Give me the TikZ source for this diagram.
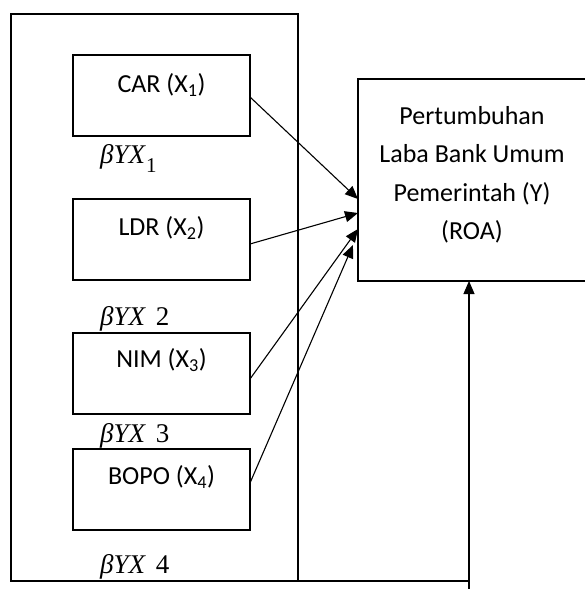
\documentclass[tikz,border=0pt]{standalone}
\usepackage{fontspec}
\setmainfont{Carlito}
\newfontfamily\tms{Liberation Serif}
\usetikzlibrary{arrows.meta}
\begin{document}
\begin{tikzpicture}[x=1pt,y=-1pt,
  box/.style={draw, line width=1.1pt, minimum width=177pt, minimum height=81pt, anchor=north west, inner sep=0, outer sep=0},
  lbl/.style={font=\fontsize{26}{38.5}\selectfont, inner sep=0, align=center},
  beta/.style={font=\tms\fontsize{27}{30}\selectfont, inner sep=0, anchor=base west},
  arr/.style={-{Triangle[length=13pt,width=11pt]}, line width=1.1pt},
  ln/.style={line width=1.1pt}]
\useasboundingbox (0,0) rectangle (585,589);
% outer frame
\node[draw, ln, minimum width=287pt, minimum height=567pt, anchor=north west, inner sep=0, outer sep=0] (frame) at (11,14) {};
% input boxes
\node[box] (car) at (73,55) {};
\node[box] (ldr) at (73,199) {};
\node[box] (nim) at (73,333) {};
\node[box] (bopo) at (73,449) {};
\node[lbl] (cart) at (161.5,85) {CAR (X\textsubscript{1})};
\node[lbl] (ldrt) at (161.5,228) {LDR (X\textsubscript{2})};
\node[lbl] (nimt) at (161.5,360) {NIM (X\textsubscript{3})};
\node[lbl] (bopot) at (161.5,477) {BOPO (X\textsubscript{4})};
% beta labels
\node[beta] (b1) at (100,163) {\textit{βYX}\raisebox{-9pt}{\fontsize{21}{24}\selectfont 1}};
\node[beta] (b2) at (100,325) {\textit{βYX}\hspace{3pt} 2};
\node[beta] (b3) at (100,442) {\textit{βYX}\hspace{3pt} 3};
\node[beta] (b4) at (100,573) {\textit{βYX}\hspace{3pt} 4};
% dependent box
\node[draw, ln, minimum width=232pt, minimum height=202pt, anchor=north west, inner sep=0, outer sep=0] (y) at (358,79) {};
\node[lbl] (yt) at (472,175) {Pertumbuhan\\Laba Bank Umum\\Pemerintah (Y)\\(ROA)};
% connectors
\draw[arr] ([yshift=-1.5pt]car.east) -- ([yshift=-19pt]y.west);
\draw[arr] ([yshift=-4.5pt]ldr.east) -- ([yshift=-33pt]y.west);
\draw[arr] ([yshift=-5.5pt]nim.east) -- ([yshift=-49pt]y.west);
\draw[arr] ([yshift=6.5pt]bopo.east) -- ([xshift=-5pt,yshift=-65pt]y.west);
\coordinate (corner) at (469,581);
\coordinate (bot) at (469,589);
\draw[ln] (frame.south east) -- (corner);
\draw[arr] (bot) -- (y.south -| bot);
\end{tikzpicture}
\end{document}
